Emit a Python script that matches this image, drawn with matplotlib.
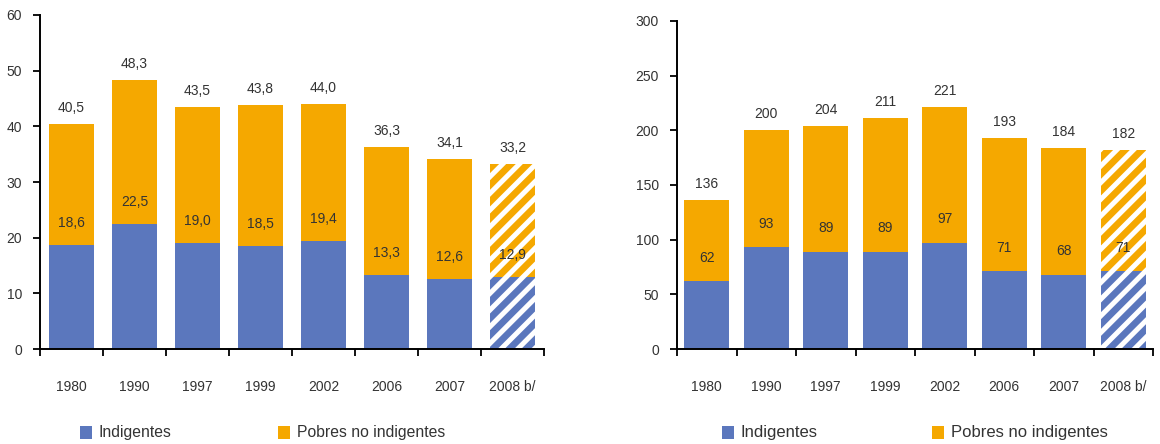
import matplotlib
matplotlib.use("Agg")
import matplotlib.pyplot as plt
from matplotlib.patches import Rectangle

years = ["1980", "1990", "1997", "1999", "2002", "2006", "2007", "2008 b/"]
pct_indigentes = [18.6, 22.5, 19.0, 18.5, 19.4, 13.3, 12.6, 12.9]
pct_total = [40.5, 48.3, 43.5, 43.8, 44.0, 36.3, 34.1, 33.2]
mill_indigentes = [62, 93, 89, 89, 97, 71, 68, 71]
mill_total = [136, 200, 204, 211, 221, 193, 184, 182]
legend_labels = ["Indigentes", "Pobres no indigentes"]

BLUE = "#5B77BD"
ORANGE = "#F5A800"
TXT = "#333333"
plt.rcParams['font.family'] = ['Liberation Sans', 'DejaVu Sans']
plt.rcParams['hatch.linewidth'] = 3.6

W, H = 1160, 444
fig = plt.figure(figsize=(W / 100, H / 100), dpi=100)


def make_axes(x0, x1, ytop, ybot):
    return fig.add_axes([x0 / W, (H - ybot) / H, (x1 - x0) / W, (ybot - ytop) / H])


def draw(ax, ind, tot, ymax, ystep, fmt, bw, ind_off):
    n = len(years)
    xs = [i + 0.5 for i in range(n)]
    rest = [t - i for t, i in zip(tot, ind)]
    for i in range(n):
        hatch = "//" if i == n - 1 else None
        ec = "white" if hatch else "none"
        ax.bar(xs[i], ind[i], width=bw, color=BLUE, edgecolor=ec, linewidth=0, hatch=hatch)
        ax.bar(xs[i], rest[i], bottom=ind[i], width=bw, color=ORANGE, edgecolor=ec, linewidth=0, hatch=hatch)
        ax.annotate(fmt(tot[i]), (xs[i], tot[i]), xytext=(0, 11.5), textcoords="offset points",
                    ha="center", va="center", fontsize=10, color=TXT)
        ax.annotate(fmt(ind[i]), (xs[i], ind[i]), xytext=(0, ind_off), textcoords="offset points",
                    ha="center", va="center", fontsize=10, color=TXT)
    ax.set_xlim(0, n)
    ax.set_ylim(0, ymax)
    ax.set_yticks(range(0, ymax + 1, ystep))
    ax.set_xticks(range(0, n + 1))
    ax.set_xticklabels([])
    ax.set_xticks(xs, minor=True)
    ax.set_xticklabels(years, minor=True)
    ax.tick_params(axis="x", which="major", direction="out", length=5, width=1.3, color="black")
    ax.tick_params(axis="x", which="minor", length=0, pad=22, labelsize=10, labelcolor=TXT)
    ax.tick_params(axis="y", direction="out", length=5, width=1.3, pad=8, labelsize=10, labelcolor=TXT)
    for s in ["top", "right"]:
        ax.spines[s].set_visible(False)
    for s in ["left", "bottom"]:
        ax.spines[s].set_linewidth(1.4)
    ax.patch.set_visible(False)


def comma1(v):
    return f"{v:.1f}".replace(".", ",")


def intfmt(v):
    return f"{v:d}"


ax1 = make_axes(40, 544, 15, 349)
draw(ax1, pct_indigentes, pct_total, 60, 10, comma1, 0.73, 16)
ax2 = make_axes(677, 1153, 21, 349)
draw(ax2, mill_indigentes, mill_total, 300, 50, intfmt, 0.76, 17)


def legend(xs_sq, y_c, fs):
    for (xsq, label, col) in zip(xs_sq, legend_labels, [BLUE, ORANGE]):
        fig.add_artist(Rectangle(((xsq) / W, (H - y_c - 6.5) / H), 12 / W, 13 / H,
                                 transform=fig.transFigure, color=col, lw=0))
        fig.text((xsq + 19) / W, (H - y_c) / H, label, ha="left", va="center",
                 fontsize=fs, color=TXT)


legend([80, 278], 432, 11.3)
legend([722, 932], 432, 12)

fig.savefig("out.png", dpi=100)
